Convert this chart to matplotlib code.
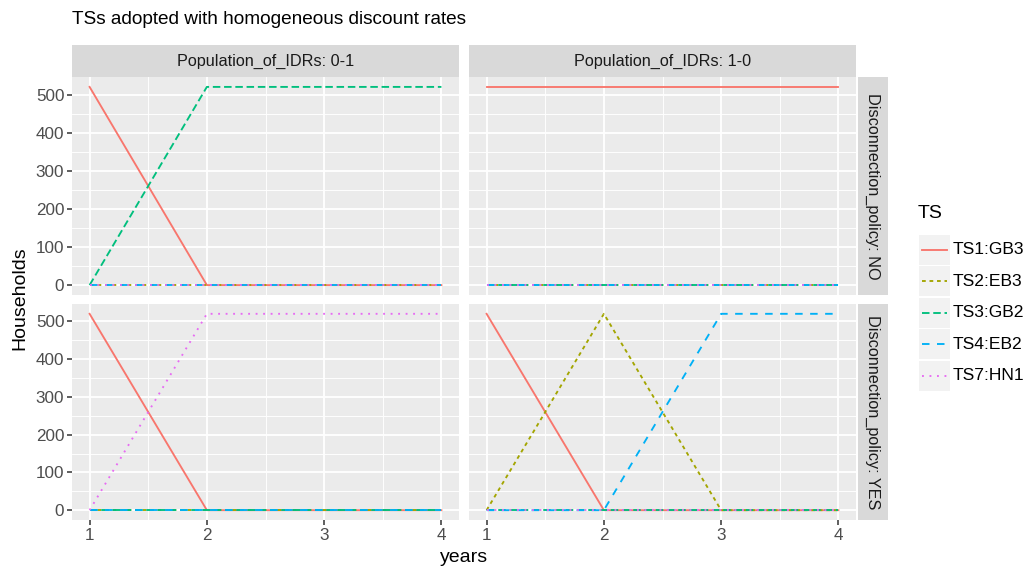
import matplotlib
matplotlib.use("Agg")
import matplotlib.pyplot as plt
from matplotlib.patches import Rectangle
from matplotlib.lines import Line2D

plt.rcParams['font.family'] = ['Liberation Sans', 'DejaVu Sans']

# ---- data ----
years = [1, 2, 3, 4]
series = ['TS1:GB3', 'TS2:EB3', 'TS3:GB2', 'TS4:EB2', 'TS7:HN1']
populations = ['0-1', '1-0']
policies = ['NO', 'YES']

hh_01_no = {'TS1:GB3': [520, 0, 0, 0], 'TS2:EB3': [0, 0, 0, 0], 'TS3:GB2': [0, 520, 520, 520],
            'TS4:EB2': [0, 0, 0, 0], 'TS7:HN1': [0, 0, 0, 0]}
hh_10_no = {'TS1:GB3': [520, 520, 520, 520], 'TS2:EB3': [0, 0, 0, 0], 'TS3:GB2': [0, 0, 0, 0],
            'TS4:EB2': [0, 0, 0, 0], 'TS7:HN1': [0, 0, 0, 0]}
hh_01_yes = {'TS1:GB3': [520, 0, 0, 0], 'TS2:EB3': [0, 0, 0, 0], 'TS3:GB2': [0, 0, 0, 0],
             'TS4:EB2': [0, 0, 0, 0], 'TS7:HN1': [0, 520, 520, 520]}
hh_10_yes = {'TS1:GB3': [520, 0, 0, 0], 'TS2:EB3': [0, 520, 0, 0], 'TS3:GB2': [0, 0, 0, 0],
             'TS4:EB2': [0, 0, 520, 520], 'TS7:HN1': [0, 0, 0, 0]}
panels = {('0-1', 'NO'): hh_01_no, ('1-0', 'NO'): hh_10_no,
          ('0-1', 'YES'): hh_01_yes, ('1-0', 'YES'): hh_10_yes}

yticks = [0, 100, 200, 300, 400, 500]
xticks = [1, 2, 3, 4]

# ---- style ----
colors = {'TS1:GB3': '#F8766D', 'TS2:EB3': '#A3A500', 'TS3:GB2': '#00BF7D',
          'TS4:EB2': '#00B0F6', 'TS7:HN1': '#E76BF3'}
dashes = {'TS1:GB3': None, 'TS2:EB3': (2, 2), 'TS3:GB2': (4, 2),
          'TS4:EB2': (4, 4), 'TS7:HN1': (1, 3)}
LW = 1.35

W, H = 1027, 568
fig = plt.figure(figsize=(W / 100, H / 100), dpi=100)


def fbox(l, t, r, b):
    return [l / W, (H - b) / H, (r - l) / W, (b - t) / H]


col_x = {'0-1': (72, 459), '1-0': (469, 856)}
row_y = {'NO': (77, 295), 'YES': (304, 520)}


def style_line(line, name):
    d = dashes[name]
    if d is not None:
        line.set_dashes(d)
        line.set_dash_capstyle('butt')


for (pop, pol), data in panels.items():
    l, r = col_x[pop]
    t, b = row_y[pol]
    ax = fig.add_axes(fbox(l, t, r, b))
    ax.set_facecolor('#EBEBEB')
    for s in ax.spines.values():
        s.set_visible(False)
    ax.set_xlim(0.85, 4.15)
    ax.set_ylim(-26, 546)
    ax.set_xticks(xticks)
    ax.set_yticks(yticks)
    ax.set_xticks([1.5, 2.5, 3.5], minor=True)
    ax.set_yticks([50, 150, 250, 350, 450], minor=True)
    ax.grid(which='major', color='white', lw=1.3)
    ax.grid(which='minor', color='white', lw=0.65)
    ax.set_axisbelow(True)
    ax.tick_params(which='minor', length=0)
    ax.tick_params(which='major', length=3.5, width=1.1, color='#333333',
                   labelsize=12.3, labelcolor='#4D4D4D', pad=2)
    if pop != '0-1':
        ax.tick_params(axis='y', labelleft=False, length=0)
    if pol != 'YES':
        ax.tick_params(axis='x', labelbottom=False, length=0)
    for name in series:
        ln, = ax.plot(years, data[name], color=colors[name], lw=LW)
        style_line(ln, name)
    # top strips
    if pol == 'NO':
        sax = fig.add_axes(fbox(l, 45, r, 77))
        sax.set_facecolor('#D9D9D9')
        sax.set_xticks([]); sax.set_yticks([])
        for s in sax.spines.values():
            s.set_visible(False)
        sax.text(0.5, 0.5, f'Population_of_IDRs: {pop}', ha='center', va='center',
                 fontsize=11.7, color='#1A1A1A', transform=sax.transAxes)
    # right strips
    if pop == '1-0':
        rax = fig.add_axes(fbox(858, t, 888, b))
        rax.set_facecolor('#D9D9D9')
        rax.set_xticks([]); rax.set_yticks([])
        for s in rax.spines.values():
            s.set_visible(False)
        rax.text(0.5, 0.5, f'Disconnection_policy: {pol}', ha='center', va='center',
                 rotation=-90, fontsize=11.7, color='#1A1A1A', transform=rax.transAxes)

# titles
fig.text(72 / W, 1 - 20 / H, 'TSs adopted with homogeneous discount rates',
         ha='left', va='center', fontsize=13.7, color='black')
fig.text(20 / W, 1 - 298 / H, 'Households', rotation=90, ha='center', va='center',
         fontsize=14, color='black')
fig.text(464 / W, 1 - 557 / H, 'years', ha='center', va='center',
         fontsize=14, color='black')

# legend
lax = fig.add_axes([0, 0, 1, 1], facecolor='none')
lax.set_xlim(0, W); lax.set_ylim(H, 0)
lax.axis('off')
lax.text(918, 213, 'TS', ha='left', va='center', fontsize=14, color='black')
key_top = 234
key_h = 31.5
for i, name in enumerate(series):
    y0 = key_top + i * key_h
    lax.add_patch(Rectangle((919, y0 + 0.7), 31, key_h - 1.4, facecolor='#F2F2F2',
                            edgecolor='none'))
    ln = Line2D([922, 947], [y0 + key_h / 2] * 2, color=colors[name], lw=LW)
    style_line(ln, name)
    lax.add_line(ln)
    lax.text(953, y0 + key_h / 2, name, ha='left', va='center', fontsize=12.6,
             color='black')

fig.savefig('out.png', dpi=100)
